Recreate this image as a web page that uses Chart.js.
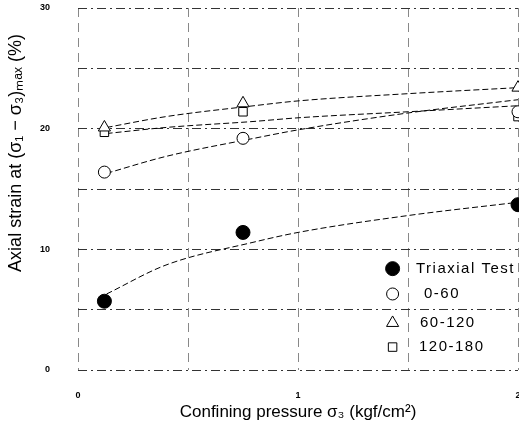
<!DOCTYPE html>
<html><head><meta charset="utf-8">
<script src="https://cdn.jsdelivr.net/npm/chart.js@4/dist/chart.umd.min.js"></script>
<style>html,body{margin:0;padding:0;background:#fff}#wrap{width:519px;height:432px}</style>
</head><body><div id="wrap"><canvas id="c" width="519" height="432"></canvas></div>
<script>
// Measured points (confining pressure, axial strain %)
const pressure = [0.12, 0.75, 2.0];
const triaxial = [5.7, 11.4, 13.7];
const s0_60 = [16.4, 19.2, 21.4];
const s60_120 = [20.1, 22.1, 23.4];
const s120_180 = [19.7, 21.4, 21.0];
// Fitted trend curves
const curveX = [0.13, 0.4, 0.8, 1.0, 1.5, 2.0];
const fitTriaxial = [6.3, 8.7, 10.6, 11.4, 12.8, 13.9];
const fit0_60 = [16.3, 17.7, 19.2, 19.9, 21.3, 22.4];
const fit60_120 = [20.1, 21.0, 21.9, 22.3, 22.9, 23.4];
const fit120_180 = [19.6, 20.1, 20.6, 20.9, 21.4, 21.9];
const seriesNames = ['Triaxial Test', '0-60', '60-120', '120-180'];
const xTickLabels = ['0', '1', '2'];
const yTickLabels = ['0', '10', '20', '30'];

const pts = (xs, ys) => xs.map((x, i) => ({x, y: ys[i]}));
const styles = [
  {pointStyle: 'circle', bg: '#000', r: 7},
  {pointStyle: 'circle', bg: '#fff', r: 6},
  {pointStyle: 'triangle', bg: '#fff', r: 7},
  {pointStyle: 'rect', bg: '#fff', r: 6}
];
const markers = [triaxial, s0_60, s60_120, s120_180].map((ys, i) => ({
  type: 'scatter', label: seriesNames[i], data: pts(pressure, ys), showLine: false,
  pointStyle: styles[i].pointStyle, pointRadius: styles[i].r, pointBackgroundColor: styles[i].bg,
  pointBorderColor: '#000', pointBorderWidth: 1, order: 0, clip: false
}));
const curves = [fitTriaxial, fit0_60, fit60_120, fit120_180].map((ys, i) => ({
  type: 'line', label: seriesNames[i] + ' fit', data: pts(curveX, ys), pointRadius: 0,
  borderColor: '#000', borderWidth: 1, borderDash: [6, 3], cubicInterpolationMode: 'monotone',
  fill: false, order: 1
}));

const legendPlugin = {
  id: 'customLegend',
  afterDraw(chart) {
    const ctx = chart.ctx, xs = chart.scales.x, ys = chart.scales.y;
    const rowsY = [8.4, 6.3, 3.9, 1.9];
    const textX = [416, 424, 420, 419];
    ctx.save();
    ctx.font = '15px "Liberation Sans", Arial, sans-serif';
    try { ctx.letterSpacing = '1.5px'; } catch (e) {}
    ctx.textBaseline = 'middle';
    seriesNames.forEach((name, i) => {
      const y = ys.getPixelForValue(rowsY[i]);
      const mx = xs.getPixelForValue(1.43);
      ctx.lineWidth = 1;
      ctx.strokeStyle = '#000';
      ctx.fillStyle = styles[i].bg;
      Chart.helpers.drawPoint(ctx, {pointStyle: styles[i].pointStyle, radius: styles[i].r, rotation: 0, borderWidth: 1}, mx, y);
      ctx.fillStyle = '#000';
      ctx.fillText(name, textX[i], y);
    });
    ctx.restore();
  }
};

new Chart(document.getElementById('c'), {
  data: {datasets: [...markers, ...curves]},
  plugins: [legendPlugin],
  options: {
    responsive: false, animation: false, devicePixelRatio: 1,
    layout: {autoPadding: false, padding: {left: 0, right: 0, top: 0, bottom: 0}},
    plugins: {legend: {display: false}, tooltip: {enabled: false}},
    scales: {
      x: {
        type: 'linear', min: 0, max: 2,
        afterFit: s => { s.height = 62; s.paddingRight = 1; s.paddingLeft = 0; },
        ticks: {stepSize: 0.5, padding: 20, color: '#000', font: {size: 9, weight: 'bold', family: 'Liberation Sans'},
          callback: v => (Number.isInteger(v) ? xTickLabels[v] : '')},
        grid: {color: '#888', lineWidth: 1, drawTicks: false},
        border: {display: false, dash: [9, 6]},
        title: {display: true, text: 'Confining pressure σ₃ (kgf/cm²)', color: '#000', padding: {top: 0, bottom: 9},
          font: {size: 17, family: 'Liberation Sans'}}
      },
      y: {
        min: 0, max: 30,
        afterFit: s => { s.width = 78; s.paddingTop = 8; s.paddingBottom = 0; },
        ticks: {stepSize: 5, padding: 28, color: '#000', font: {size: 9, weight: 'bold', family: 'Liberation Sans'},
          callback: v => (v % 10 === 0 ? yTickLabels[v / 10] : '')},
        grid: {color: '#333', lineWidth: 1, drawTicks: false},
        border: {display: false, dash: [9, 4, 2, 4]},
        title: {display: true, text: '\u2003\u2003\u2003\u2003Axial strain at (σ₁ − σ₃)ₘₐₓ (%)', color: '#000', padding: {top: 5, bottom: 0},
          font: {size: 18, family: 'Liberation Sans'}}
      }
    }
  }
});
</script></body></html>
